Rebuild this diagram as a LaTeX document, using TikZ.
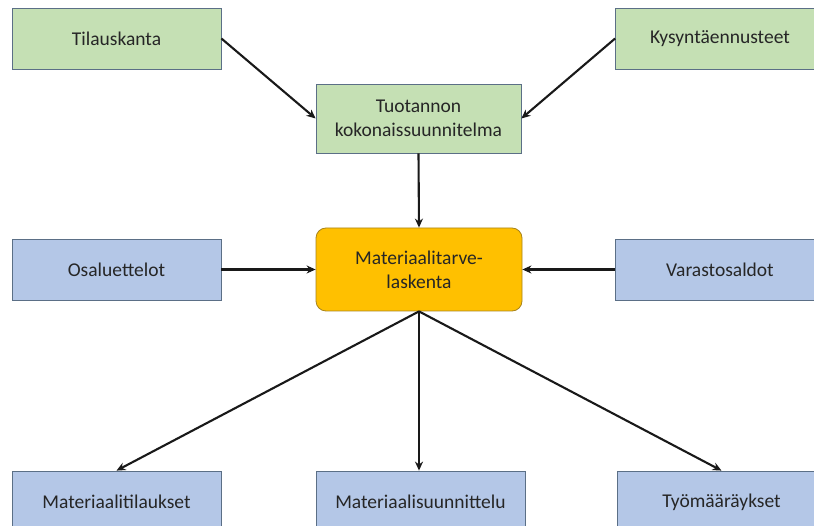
\documentclass[tikz,border=0pt]{standalone}
\usepackage{fontspec}
\setmainfont{Carlito}
\usetikzlibrary{arrows.meta}
\definecolor{gfill}{HTML}{C5E0B4}
\definecolor{bfill}{HTML}{B4C7E7}
\definecolor{ofill}{HTML}{FFC000}
\definecolor{bdr}{HTML}{5B6F86}
\definecolor{obdr}{HTML}{A8841A}
\definecolor{txt}{HTML}{262626}
\tikzset{
  box/.style={draw=bdr, line width=0.8pt, rectangle, minimum width=209pt, minimum height=61pt,
    align=center, text=txt, font=\fontsize{19.5}{24}\selectfont, inner sep=0pt},
  gbox/.style={box, fill=gfill},
  bbox/.style={box, fill=bfill},
  obox/.style={box, fill=ofill, draw=obdr, rounded corners=10pt, minimum width=206pt, minimum height=83pt},
  conn/.style={line width=2.1pt, -{Stealth[length=9pt,width=8pt]}, black!90}
}
\begin{document}
\begin{tikzpicture}[x=1pt,y=-1pt]
\useasboundingbox (0,0) rectangle (814,526);
\clip (0,0) rectangle (814,526);
\fill[white] (0,0) rectangle (814,526);
\node[gbox] (til) at (116.5,38.5) {Tilauskanta};
\node[gbox] (kys) at (720,38.5) {Kysyntäennusteet};
\node[gbox, minimum width=205pt, minimum height=69pt] (tuo) at (418.5,118.5) {Tuotannon\\kokonaissuunnitelma};
\node[obox] (mat) at (419,269.5) {Materiaalitarve-\\laskenta};
\node[bbox] (osa) at (116.5,269.5) {Osaluettelot};
\node[bbox] (var) at (720,269.5) {Varastosaldot};
\node[bbox, minimum height=62pt] (mti) at (116.5,502) {Materiaalitilaukset};
\node[bbox, minimum height=62pt] (msu) at (420.5,502) {Materiaalisuunnittelu};
\node[bbox, minimum height=62pt] (tyo) at (721.5,502) {Työmääräykset};
\draw[conn] (til.east) -- (tuo.west);
\draw[conn] (kys.west) -- (tuo.east);
\draw[conn] (tuo.south) -- (mat.north);
\draw[conn] (osa.east) -- (mat.west);
\draw[conn] (var.west) -- (mat.east);
\draw[conn] (mat.south) -- (mti.north);
\draw[conn] (mat.south) -- (msu.north -| mat.south);
\draw[conn] (mat.south) -- (tyo.north);
\end{tikzpicture}
\end{document}
